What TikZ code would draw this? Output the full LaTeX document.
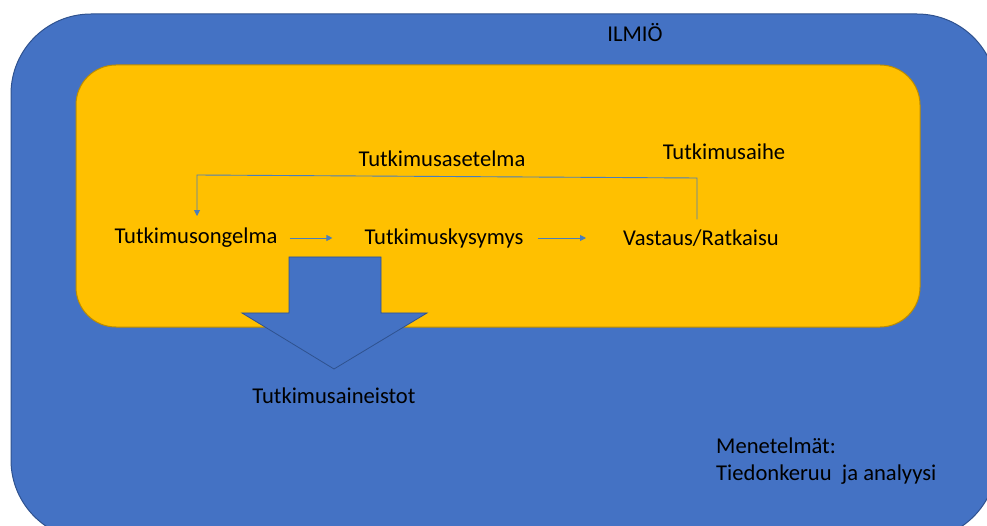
\documentclass[tikz,border=0pt]{standalone}
\usepackage{fontspec}
\setmainfont{Carlito}
\usetikzlibrary{arrows.meta}
\definecolor{ablue}{HTML}{4472C4}
\definecolor{ablueedge}{HTML}{2F528F}
\definecolor{ayellow}{HTML}{FFC000}
\definecolor{ayellowedge}{HTML}{BC8C00}
\definecolor{linkblue}{HTML}{4A7EBB}
\begin{document}
\begin{tikzpicture}[x=1pt,y=-1pt,
  txt/.style={font=\fontsize{22.6}{27}\selectfont, inner sep=0pt, text=black},
  conn/.style={draw=linkblue, line width=0.9pt},
  tip/.style={-{Triangle[length=6pt,width=6pt]}}]
\useasboundingbox (0,0) rectangle (987,526);
\begin{scope}
\clip (0,0) rectangle (987,526);
\draw[fill=ablue, draw=ablueedge, line width=1pt, rounded corners=80pt] (11,14) rectangle (997,540);
\end{scope}
\draw[fill=ayellow, draw=ayellowedge, line width=1pt, rounded corners=40pt] (76,65) rectangle (920,327);
\draw[fill=ablue, draw=ablueedge, line width=0.8pt] (289,257) -- (381,257) -- (381,313) -- (427,313) -- (334,369) -- (242,313) -- (289,313) -- cycle;
\node[txt] (ilmio) at (635,33) {ILMIÖ};
\node[txt] (aset) at (442,159) {Tutkimusasetelma};
\node[txt] (aihe) at (724,152) {Tutkimusaihe};
\node[txt] (ong) at (196,238) {Tutkimusongelma};
\node[txt] (kys) at (444,238) {Tutkimuskysymys};
\node[txt] (vas) at (701,238) {Vastaus/Ratkaisu};
\node[txt] (aine) at (334,396) {Tutkimusaineistot};
\node[txt, anchor=west] (men) at (716,446) {Menetelmät:};
\node[txt, anchor=west] (tied) at (716,475) {Tiedonkeruu\ \ ja analyysi};
\coordinate (tr) at (697,178);
\coordinate (tl) at (197,175);
\draw[conn, tip] ([xshift=12pt]ong.east) -- ([xshift=-32pt]kys.west |- ong.east);
\draw[conn, tip] ([xshift=14pt]kys.east) -- ([xshift=-37pt]vas.west |- kys.east);
\draw[conn, tip, shorten <=10pt, shorten >=12pt] (vas.north -| tr) -- (tr) -- (tl) -- (ong.north -| tl);
\end{tikzpicture}
\end{document}
